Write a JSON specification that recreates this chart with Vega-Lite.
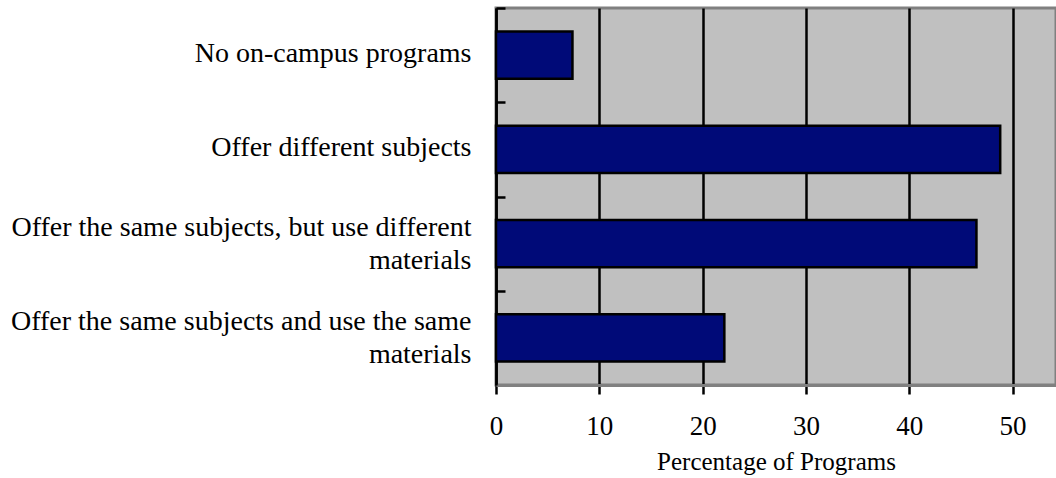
{
  "$schema": "https://vega.github.io/schema/vega-lite/v6.json",
  "width": 560,
  "height": 377,
  "autosize": "none",
  "padding": {"left": 496, "top": 8, "right": 0, "bottom": 93},
  "background": "white",
  "data": {
    "values": [
      {"category": "No on-campus programs", "percent": 7.4},
      {"category": "Offer different subjects", "percent": 48.8},
      {"category": "Offer the same subjects, but use different materials", "percent": 46.5},
      {"category": "Offer the same subjects and use the same materials", "percent": 22.1}
    ]
  },
  "mark": {"type": "bar", "color": "#000A78", "stroke": "black", "strokeWidth": 2.5},
  "encoding": {
    "y": {
      "field": "category",
      "type": "nominal",
      "sort": null,
      "scale": {"paddingInner": 0.5, "paddingOuter": 0.25},
      "axis": {
        "title": null,
        "domainColor": "black",
        "domainWidth": 2.5,
        "tickColor": "black",
        "tickWidth": 2.5,
        "tickSize": -9,
        "tickOffset": -47.125,
        "labelPadding": 34,
        "labelFont": "Liberation Serif",
        "labelFontSize": 28,
        "labelColor": "black",
        "labelLimit": 600,
        "labelLineHeight": 33,
        "labelOffset": {
          "condition": {"test": "indexof(datum.value, 'Offer the same') == 0", "value": 31.1},
          "value": 45.1
        },
        "labelExpr": "datum.label == 'Offer the same subjects, but use different materials' ? ['Offer the same subjects, but use different', 'materials'] : datum.label == 'Offer the same subjects and use the same materials' ? ['Offer the same subjects and use the same', 'materials'] : datum.label"
      }
    },
    "x": {
      "field": "percent",
      "type": "quantitative",
      "scale": {"domain": [0, 54.2], "nice": false},
      "axis": {
        "title": "Percentage of Programs",
        "values": [0, 10, 20, 30, 40, 50],
        "grid": true,
        "gridColor": "black",
        "gridWidth": 2.5,
        "domainColor": "#808080",
        "domainWidth": 3,
        "tickColor": "black",
        "tickWidth": 2.5,
        "tickSize": 9,
        "labelPadding": 19,
        "labelFlush": false,
        "labelFont": "Liberation Serif",
        "labelFontSize": 27,
        "labelColor": "black",
        "titleFont": "Liberation Serif",
        "titleFontSize": 25,
        "titleFontWeight": "normal",
        "titleColor": "black",
        "titlePadding": 10
      }
    }
  },
  "config": {
    "view": {"fill": "#C0C0C0", "stroke": "#808080", "strokeWidth": 3}
  }
}
